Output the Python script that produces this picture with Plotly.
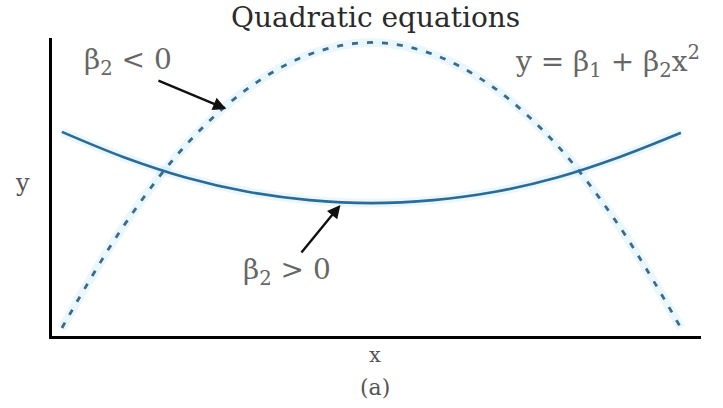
import plotly.graph_objects as go

# Sampled points of the two quadratics
x_vals = [-1.0, -0.8, -0.6, -0.4, -0.2, 0.0, 0.2, 0.4, 0.6, 0.8, 1.0]
y_neg = [0.27, 3.7, 6.4, 8.3, 9.45, 9.85, 9.45, 8.3, 6.4, 3.7, 0.27]   # beta2 < 0
y_pos = [6.85, 6.0, 5.32, 4.84, 4.56, 4.46, 4.56, 4.84, 5.32, 6.0, 6.82]  # beta2 > 0

title_text = "Quadratic equations"
label_neg = "β<sub>2</sub> < 0"
label_pos = "β<sub>2</sub> > 0"
label_eq = "y = β<sub>1</sub> + β<sub>2</sub>x<sup>2</sup>"

SERIF = "DejaVu Serif, Liberation Serif, serif"

fig = go.Figure()

# faint glow under each curve
for ys in (y_neg, y_pos):
    fig.add_trace(go.Scatter(
        x=x_vals, y=ys, mode="lines", line=dict(color="rgba(160,220,245,0.22)", width=9, shape="spline"),
        hoverinfo="skip", showlegend=False))

fig.add_trace(go.Scatter(
    x=x_vals, y=y_neg, mode="lines",
    line=dict(color="#3c6a8c", width=2.8, dash="6px,9px", shape="spline"),
    showlegend=False))
fig.add_trace(go.Scatter(
    x=x_vals, y=y_pos, mode="lines",
    line=dict(color="#2c6b98", width=2.6, shape="spline"),
    showlegend=False))


def note(text, x, y, size, color, ref="data"):
    r = ("x", "y") if ref == "data" else ("paper", "paper")
    return dict(text=text, x=x, y=y, xref=r[0], yref=r[1], showarrow=False,
                xanchor="center", yanchor="middle",
                font=dict(family=SERIF, size=size, color=color))


annotations = [
    note(title_text, 0.498, 1.07, 28, "#2a2a2a", ref="paper"),
    note(label_neg, -0.786, 9.2, 28, "#666666"),
    note(label_eq, 0.764, 9.2, 28, "#666666"),
    note(label_pos, -0.272, 2.15, 28, "#666666"),
    # arrows
    dict(text="", x=-0.469, y=7.62, ax=-0.693, ay=8.59, xref="x", yref="y", axref="x", ayref="y",
         showarrow=True, arrowhead=2, arrowsize=1.1, arrowwidth=2.4, arrowcolor="#111111"),
    dict(text="", x=-0.100, y=4.40, ax=-0.230, ay=2.75, xref="x", yref="y", axref="x", ayref="y",
         showarrow=True, arrowhead=2, arrowsize=1.1, arrowwidth=2.4, arrowcolor="#111111"),
    # axis labels
    note("y", -0.046, 0.513, 24, "#555555", ref="paper"),
    note("x", 0.498, -0.064, 21, "#555555", ref="paper"),
    note("(a)", 0.498, -0.174, 22, "#555555", ref="paper"),
]

fig.update_layout(
    width=723, height=408,
    margin=dict(l=52, r=22, t=38, b=72),
    paper_bgcolor="white", plot_bgcolor="white",
    annotations=annotations,
    xaxis=dict(range=[-1.032, 1.065], showgrid=False, zeroline=False, showticklabels=False,
               ticks="", showline=True, linecolor="black", linewidth=3),
    yaxis=dict(range=[0, 10], showgrid=False, zeroline=False, showticklabels=False,
               ticks="", showline=True, linecolor="black", linewidth=3),
)

fig.write_html("out.html")
